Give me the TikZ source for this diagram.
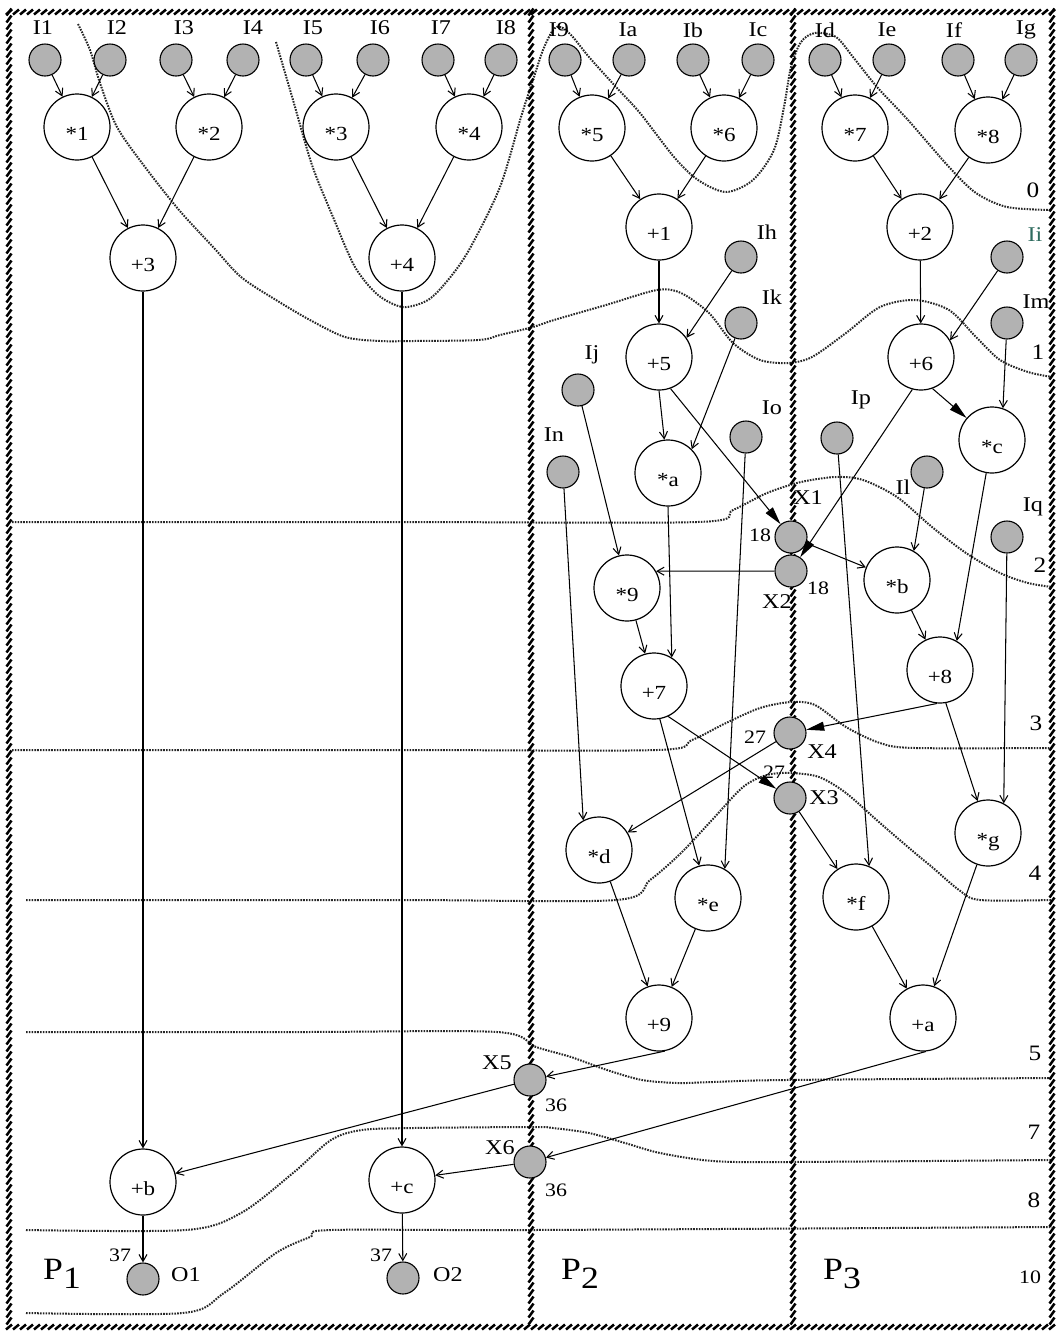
\documentclass[tikz,border=0pt]{standalone}
\usepackage{fontspec}
\setmainfont[FakeStretch=1.15]{Liberation Serif}
\usetikzlibrary{arrows.meta}
\definecolor{iicol}{HTML}{2E6B5E}
\begin{document}
\begin{tikzpicture}[x=1pt,y=-1pt,
 op/.style={circle, draw, line width=1.2pt, fill=white, minimum size=66pt, inner sep=0pt, text height=26pt, text depth=0pt, font=\fontsize{20}{20}\selectfont},
 inp/.style={circle, draw, line width=1.1pt, fill=black!30, minimum size=32pt, inner sep=0pt},
 lbl/.style={font=\fontsize{21}{21}\selectfont, inner sep=0pt},
 num/.style={font=\fontsize{19}{19}\selectfont, inner sep=0pt},
 zlbl/.style={font=\fontsize{22}{22}\selectfont, inner sep=0pt},
 plbl/.style={font=\fontsize{31}{31}\selectfont, inner sep=0pt},
 ar/.style={line width=1.05pt, -{Straight Barb[length=7pt,width=8pt]}},
 bigar/.style={line width=1.05pt, -{Triangle[length=18pt,width=9pt]}},
 zone/.style={line width=2pt, dash pattern=on 1.6pt off 1.2pt, draw=black!85},
 hatch/.style={line width=2.5pt}
]
\useasboundingbox (0,0) rectangle (1058,1334);

% ---------- zone (level) boundaries ----------
\draw[zone] plot[smooth, tension=0.5] coordinates {(276,42) (293,100) (312,165) (333,217) (355,267) (378,295) (403,307) (428,300) (448,280) (469,250) (500,187) (521,117) (533,80) (543,50) (553,30) (561,27) (572,36) (589,57) (616,87) (640,113) (674,157) (698,180) (726,192) (753,180) (774,150) (784,107) (791,67) (801,42) (815,33) (836,37) (853,57) (877,87) (908,120) (949,167) (976,193) (1007,207) (1050,210)};
\draw[zone] plot[smooth, tension=0.5] coordinates {(78,24) (90,50) (100,83) (117,127) (145,167) (179,210) (214,248) (241,277) (276,300) (310,320) (345,337) (380,341) (414,341) (479,340) (500,335) (533,327) (554,320) (606,305) (657,290) (681,293) (709,313) (733,343) (760,360) (788,363) (812,357) (846,333) (880,307) (915,300) (949,310) (976,337) (1000,360) (1028,372) (1052,377)};
\draw[zone] plot[smooth, tension=0.5] coordinates {(12,522) (400,522) (698,522) (733,510) (767,493) (801,482) (836,477) (863,480) (897,497) (932,527) (966,553) (1000,573) (1028,583) (1052,587)};
\draw[zone] plot[smooth, tension=0.5] coordinates {(12,750) (400,750) (657,750) (692,740) (726,723) (760,708) (791,702) (815,705) (846,727) (880,743) (915,748) (1052,748)};
\draw[zone] plot[smooth, tension=0.5] coordinates {(26,900) (400,900) (616,900) (650,880) (681,853) (712,820) (743,787) (767,775) (791,773) (819,777) (846,793) (880,823) (915,853) (932,867) (959,890) (980,900) (1052,900)};
\draw[zone] plot[smooth, tension=0.5] coordinates {(26,1032) (300,1032) (497,1032) (536,1047) (571,1057) (607,1070) (642,1080) (678,1083) (713,1082) (785,1080) (1052,1078)};
\draw[zone] plot[smooth, tension=0.5] coordinates {(26,1230) (186,1230) (241,1213) (293,1173) (331,1140) (362,1130) (414,1128) (533,1127) (553,1128) (589,1133) (625,1143) (660,1153) (713,1161) (785,1162) (1052,1160)};
\draw[zone] plot[smooth, tension=0.5] coordinates {(26,1313) (183,1313) (224,1293) (276,1253) (310,1237) (331,1230) (533,1230) (1052,1227)};

% ---------- hatched processor borders ----------
\draw[hatch] \foreach \xx in {9,531,793,1052} { \foreach \yy in {12,19,...,1327} { (\xx-2.5,\yy+3.5) -- (\xx+2.5,\yy-3.5) } };
\draw[hatch] \foreach \yy in {12,1327} { \foreach \xx in {9,16,...,1052} { (\xx-3,\yy+2.5) -- (\xx+3,\yy-2.5) } };

% ---------- input nodes ----------
\node[inp] (n1) at (45,60) {};
\node[inp] (n2) at (110,60) {};
\node[inp] (n3) at (176,60) {};
\node[inp] (n4) at (243,60) {};
\node[inp] (n5) at (306,60) {};
\node[inp] (n6) at (373,60) {};
\node[inp] (n7) at (438,60) {};
\node[inp] (n8) at (501,60) {};
\node[inp] (n9) at (565,60) {};
\node[inp] (na) at (629,60) {};
\node[inp] (nb) at (693,60) {};
\node[inp] (nc) at (758,60) {};
\node[inp] (nd) at (825,60) {};
\node[inp] (ne) at (889,60) {};
\node[inp] (nf) at (958,60) {};
\node[inp] (ng) at (1021,60) {};
\node[inp] (nh) at (741,257) {};
\node[inp] (ni) at (1007,257) {};
\node[inp] (nk) at (741,323) {};
\node[inp] (nm) at (1007,323) {};
\node[inp] (nj) at (578,390) {};
\node[inp] (nn) at (563,472) {};
\node[inp] (no) at (746,437) {};
\node[inp] (np) at (837,438) {};
\node[inp] (nl) at (927,472) {};
\node[inp] (nq) at (1007,537) {};
\node[inp] (x1) at (791,537) {};
\node[inp] (x2) at (791,571) {};
\node[inp] (x4) at (790,733) {};
\node[inp] (x3) at (790,798) {};
\node[inp] (x5) at (530,1080) {};
\node[inp] (x6) at (530,1162) {};
\node[inp] (o1) at (143,1279) {};
\node[inp] (o2) at (403,1278) {};

% ---------- input labels ----------
\node[lbl] (t1) at (43,28) {I1};
\node[lbl] (t2) at (117,28) {I2};
\node[lbl] (t3) at (184,28) {I3};
\node[lbl] (t4) at (253,28) {I4};
\node[lbl] (t5) at (313,28) {I5};
\node[lbl] (t6) at (380,28) {I6};
\node[lbl] (t7) at (441,28) {I7};
\node[lbl] (t8) at (506,28) {I8};
\node[lbl] (t9) at (559,30) {I9};
\node[lbl] (ta) at (628,30) {Ia};
\node[lbl] (tb) at (693,30) {Ib};
\node[lbl] (tc) at (758,30) {Ic};
\node[lbl] (td) at (825,30) {Id};
\node[lbl] (te) at (887,30) {Ie};
\node[lbl] (tf) at (954,30) {If};
\node[lbl] (tg) at (1026,30) {Ig};
\node[lbl] (th) at (767,232) {Ih};
\node[lbl, text=iicol] (ti) at (1035,235) {Ii};
\node[lbl] (tk) at (772,297) {Ik};
\node[lbl] (tm) at (1036,302) {Im};
\node[lbl] (tj) at (592,355) {Ij};
\node[lbl] (tn) at (554,435) {In};
\node[lbl] (to) at (772,408) {Io};
\node[lbl] (tp) at (861,400) {Ip};
\node[lbl] (tl) at (903,487) {Il};
\node[lbl] (tq) at (1033,507) {Iq};
\node[lbl] (tx1) at (808,498) {X1};
\node[num] (c18a) at (760,535) {18};
\node[lbl] (tx2) at (777,602) {X2};
\node[num] (c18b) at (818,588) {18};
\node[num] (c27a) at (755,737) {27};
\node[lbl] (tx4) at (822,752) {X4};
\node[num] (c27b) at (774,772) {27};
\node[lbl] (tx3) at (824,798) {X3};
\node[lbl] (tx5) at (497,1063) {X5};
\node[num] (c36a) at (556,1105) {36};
\node[lbl] (tx6) at (500,1148) {X6};
\node[num] (c36b) at (556,1190) {36};
\node[num] (c37a) at (120,1255) {37};
\node[lbl] (to1) at (186,1275) {O1};
\node[num] (c37b) at (381,1255) {37};
\node[lbl] (to2) at (448,1275) {O2};

% ---------- zone numbers and processor names ----------
\node[zlbl] (z0) at (1033,190) {0};
\node[zlbl] (z1) at (1038,352) {1};
\node[zlbl] (z2) at (1040,565) {2};
\node[zlbl] (z3) at (1036,723) {3};
\node[zlbl] (z4) at (1035,873) {4};
\node[zlbl] (z5) at (1035,1053) {5};
\node[zlbl] (z7) at (1034,1132) {7};
\node[zlbl] (z8) at (1034,1200) {8};
\node[num] (z10) at (1030,1277) {10};
\node[plbl] (pp1) at (62,1274) {P\raisebox{-9pt}{1}};
\node[plbl] (pp2) at (580,1274) {P\raisebox{-9pt}{2}};
\node[plbl] (pp3) at (842,1274) {P\raisebox{-9pt}{3}};

% ---------- operation nodes ----------
\node[op] (m1) at (77,127) {*1};
\node[op] (m2) at (209,127) {*2};
\node[op] (m3) at (336,127) {*3};
\node[op] (m4) at (469,127) {*4};
\node[op] (p3) at (143,258) {+3};
\node[op] (p4) at (402,258) {+4};
\node[op] (m5) at (592,128) {*5};
\node[op] (m6) at (724,128) {*6};
\node[op] (m7) at (855,128) {*7};
\node[op] (m8) at (988,130) {*8};
\node[op] (p1) at (659,227) {+1};
\node[op] (p2) at (920,227) {+2};
\node[op] (p5) at (659,357) {+5};
\node[op] (p6) at (921,357) {+6};
\node[op] (ma) at (668,473) {*a};
\node[op] (mc) at (992,440) {*c};
\node[op] (m9) at (627,588) {*9};
\node[op] (mb) at (897,580) {*b};
\node[op] (p7) at (654,686) {+7};
\node[op] (p8) at (940,670) {+8};
\node[op] (md) at (599,850) {*d};
\node[op] (me) at (708,898) {*e};
\node[op] (mf) at (856,897) {*f};
\node[op] (mg) at (988,833) {*g};
\node[op] (p9) at (659,1018) {+9};
\node[op] (pa) at (923,1018) {+a};
\node[op] (pb) at (143,1182) {+b};
\node[op] (pc) at (402,1180) {+c};

% ---------- connectors: P1 ----------
\draw[ar] (n1) -- (m1);
\draw[ar] (n2) -- (m1);
\draw[ar] (n3) -- (m2);
\draw[ar] (n4) -- (m2);
\draw[ar] (n5) -- (m3);
\draw[ar] (n6) -- (m3);
\draw[ar] (n7) -- (m4);
\draw[ar] (n8) -- (m4);
\draw[ar] (m1) -- (p3);
\draw[ar] (m2) -- (p3);
\draw[ar] (m3) -- (p4);
\draw[ar] (m4) -- (p4);
\draw[ar] (p3) -- (pb);
\draw[ar] (p4) -- (pc);
\draw[ar] (pb) -- (o1);
\draw[ar] (pc) -- (o2);
\draw[ar] (x5) -- (pb);
\draw[ar] (x6) -- (pc);

% ---------- connectors: P2 ----------
\draw[ar] (n9) -- (m5);
\draw[ar] (na) -- (m5);
\draw[ar] (nb) -- (m6);
\draw[ar] (nc) -- (m6);
\draw[ar] (m5) -- (p1);
\draw[ar] (m6) -- (p1);
\draw[ar] (p1) -- (p5);
\draw[ar] (nh) -- (p5.35);
\draw[ar] (p5.south) -- (ma);
\draw[ar] (nk) -- (ma.45);
\draw[bigar] (p5.290) -- (x1);
\draw[ar] (x2) -- (m9.30);
\draw[ar] (nj) -- (m9);
\draw[ar] (m9) -- (p7);
\draw[ar] (ma.south) -- (p7.58);
\draw[ar] (nn) -- (md.118);
\draw[ar] (x4) -- (md);
\draw[ar] (p7.280) -- (me);
\draw[ar] (no) -- (me.60);
\draw[bigar] (p7.295) -- (x3);
\draw[ar] (md) -- (p9);
\draw[ar] (me) -- (p9);
\draw[ar] (p9.280) -- (x5);
\draw[ar] (pa.275) -- (x6);

% ---------- connectors: P3 ----------
\draw[ar] (nd) -- (m7);
\draw[ar] (ne) -- (m7);
\draw[ar] (nf) -- (m8);
\draw[ar] (ng) -- (m8);
\draw[ar] (m7) -- (p2);
\draw[ar] (m8) -- (p2);
\draw[ar] (p2) -- (p6);
\draw[ar] (ni) -- (p6.30);
\draw[bigar] (p6.290) -- (mc);
\draw[ar] (nm) -- (mc.71);
\draw[bigar] (p6.255) -- (x2);
\draw[ar] (x1) -- (mb);
\draw[ar] (nl) -- (mb.60);
\draw[ar] (mb) -- (p8);
\draw[ar] (mc) -- (p8.60);
\draw[bigar] (p8.265) -- (x4);
\draw[ar] (p8.280) -- (mg);
\draw[ar] (nq) -- (mg.62);
\draw[ar] (x3) -- (mf);
\draw[ar] (np) -- (mf.67);
\draw[ar] (mf) -- (pa);
\draw[ar] (mg) -- (pa);
\end{tikzpicture}
\end{document}
